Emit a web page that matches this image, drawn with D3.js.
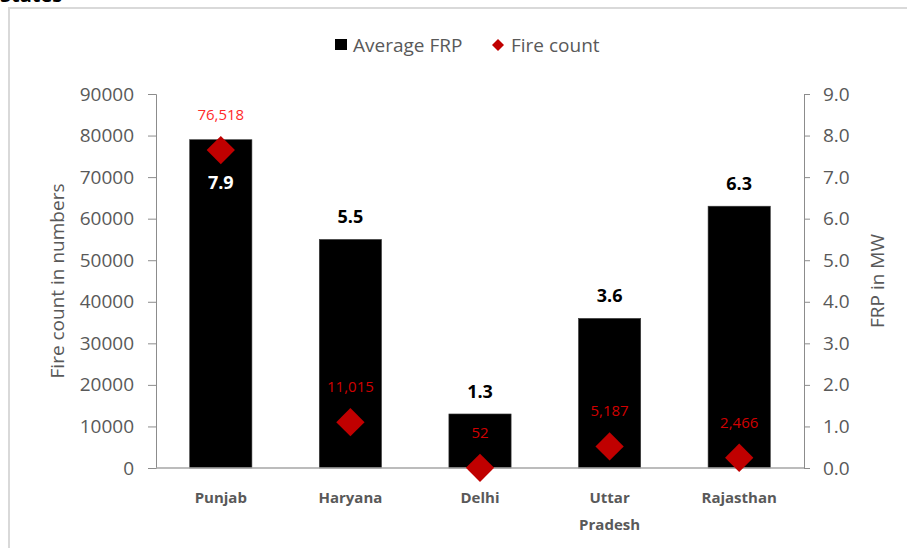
<!DOCTYPE html>
<html>
<head>
<meta charset="utf-8">
<script src="https://cdn.jsdelivr.net/npm/d3@7"></script>
<style>
    body { margin: 0; background: #fff; }
    svg { display: block; font-family: "Open Sans", sans-serif; }
</style>
</head>
<body>
<div id="chart"></div>
<script>
    // chart data
    var states = ["Punjab", "Haryana", "Delhi", "Uttar Pradesh", "Rajasthan"];
    var avgFrp = [7.9, 5.5, 1.3, 3.6, 6.3];
    var fireCount = [76518, 11015, 52, 5187, 2466];
    var countTicks = [0, 10000, 20000, 30000, 40000, 50000, 60000, 70000, 80000, 90000];
    var frpTicks = [0, 1, 2, 3, 4, 5, 6, 7, 8, 9];

    var width = 907, height = 548;
    var plot = {left: 156, right: 804, top: 94, bottom: 468};
    var grey = "#595959";

    var svg = d3.select("#chart").append("svg")
        .attr("width", width)
        .attr("height", height);

    // cut off title from above + frame
    svg.append("text").attr("x", 0).attr("y", 2)
        .attr("font-size", 20).attr("font-weight", "bold").attr("fill", "#000")
        .text("States");
    svg.append("rect").attr("x", 9).attr("y", 8)
        .attr("width", 910).attr("height", 560)
        .attr("fill", "none").attr("stroke", "#d9d9d9").attr("stroke-width", 2);

    var x = d3.scaleBand().domain(states).range([plot.left, plot.right]);
    var yCount = d3.scaleLinear().domain([0, 90000]).range([plot.bottom, plot.top]);
    var yFrp = d3.scaleLinear().domain([0, 9]).range([plot.bottom, plot.top]);
    var barW = x.bandwidth() * 0.48;

    // axes
    var leftAxis = svg.append("g")
        .attr("transform", "translate(" + plot.left + ",0)")
        .call(d3.axisLeft(yCount).tickValues(countTicks).tickSize(8).tickPadding(14).tickFormat(d3.format("d")));
    var rightAxis = svg.append("g")
        .attr("transform", "translate(" + plot.right + ",0)")
        .call(d3.axisRight(yFrp).tickValues(frpTicks).tickSize(6).tickPadding(13).tickFormat(d3.format(".1f")));
    [leftAxis, rightAxis].forEach(function (ax) {
        ax.select(".domain").attr("stroke", "#8c8c8c");
        ax.selectAll(".tick line").attr("stroke", "#8c8c8c");
        ax.selectAll(".tick text").attr("fill", grey).attr("font-size", 19)
            .attr("font-family", "Open Sans");
    });

    // bars
    svg.append("g").selectAll("rect")
        .data(states)
        .join("rect")
        .attr("x", function (d) { return x(d) + x.bandwidth() / 2 - barW / 2; })
        .attr("y", function (d, i) { return yFrp(avgFrp[i]); })
        .attr("width", barW)
        .attr("height", function (d, i) { return plot.bottom - yFrp(avgFrp[i]); })
        .attr("fill", "#000")
        .attr("stroke", "#3a3a3a").attr("stroke-width", 0.6);

    // bottom axis line
    svg.append("line")
        .attr("x1", plot.left).attr("x2", plot.right)
        .attr("y1", plot.bottom).attr("y2", plot.bottom)
        .attr("stroke", "#a6a6a6").attr("stroke-width", 1.5);

    // FRP labels (first one sits inside its bar)
    svg.append("g").selectAll("text")
        .data(states)
        .join("text")
        .attr("x", function (d) { return x(d) + x.bandwidth() / 2; })
        .attr("y", function (d, i) { return i === 0 ? yFrp(avgFrp[i]) + 49 : yFrp(avgFrp[i]) - 16; })
        .attr("text-anchor", "middle")
        .attr("font-size", 18).attr("font-weight", "bold")
        .attr("fill", function (d, i) { return i === 0 ? "#fff" : "#000"; })
        .text(function (d, i) { return d3.format(".1f")(avgFrp[i]); });

    // fire count diamonds
    var diamond = d3.symbol().type(d3.symbolSquare).size(400);
    svg.append("g").selectAll("path")
        .data(states)
        .join("path")
        .attr("d", diamond)
        .attr("transform", function (d, i) {
            return "translate(" + (x(d) + x.bandwidth() / 2) + "," + yCount(fireCount[i]) + ") rotate(45)";
        })
        .attr("fill", "#c00000");

    svg.append("g").selectAll("text")
        .data(states)
        .join("text")
        .attr("x", function (d) { return x(d) + x.bandwidth() / 2; })
        .attr("y", function (d, i) { return yCount(fireCount[i]) - 30; })
        .attr("text-anchor", "middle")
        .attr("font-size", 15)
        .attr("fill", function (d, i) { return i === 0 ? "#ff2a2a" : "#d00000"; })
        .text(function (d, i) { return d3.format(",")(fireCount[i]); });

    // category labels, wrapped on spaces
    var cat = svg.append("g").selectAll("text")
        .data(states)
        .join("text")
        .attr("x", function (d) { return x(d) + x.bandwidth() / 2; })
        .attr("y", 503)
        .attr("text-anchor", "middle")
        .attr("font-size", 15).attr("font-weight", "bold")
        .attr("fill", grey);
    cat.each(function (d) {
        var t = d3.select(this);
        d.split(" ").forEach(function (w, k) {
            t.append("tspan")
                .attr("x", t.attr("x"))
                .attr("dy", k === 0 ? 0 : 27)
                .text(w);
        });
    });

    // axis titles
    svg.append("text")
        .attr("transform", "translate(64," + ((plot.top + plot.bottom) / 2) + ") rotate(-90)")
        .attr("text-anchor", "middle")
        .attr("font-size", 19).attr("fill", grey)
        .text("Fire count in numbers");
    svg.append("text")
        .attr("transform", "translate(884," + ((plot.top + plot.bottom) / 2) + ") rotate(-90)")
        .attr("text-anchor", "middle")
        .attr("font-size", 19).attr("fill", grey)
        .text("FRP in MW");

    // legend
    var legend = svg.append("g");
    legend.append("rect").attr("x", 335).attr("y", 39).attr("width", 12).attr("height", 11).attr("fill", "#000");
    legend.append("text").attr("x", 353).attr("y", 52)
        .attr("font-size", 19).attr("fill", grey).text("Average FRP");
    legend.append("path")
        .attr("d", d3.symbol().type(d3.symbolSquare).size(72))
        .attr("transform", "translate(498,45) rotate(45)")
        .attr("fill", "#c00000");
    legend.append("text").attr("x", 511).attr("y", 52)
        .attr("font-size", 19).attr("fill", grey).text("Fire count");
</script>
</body>
</html>
